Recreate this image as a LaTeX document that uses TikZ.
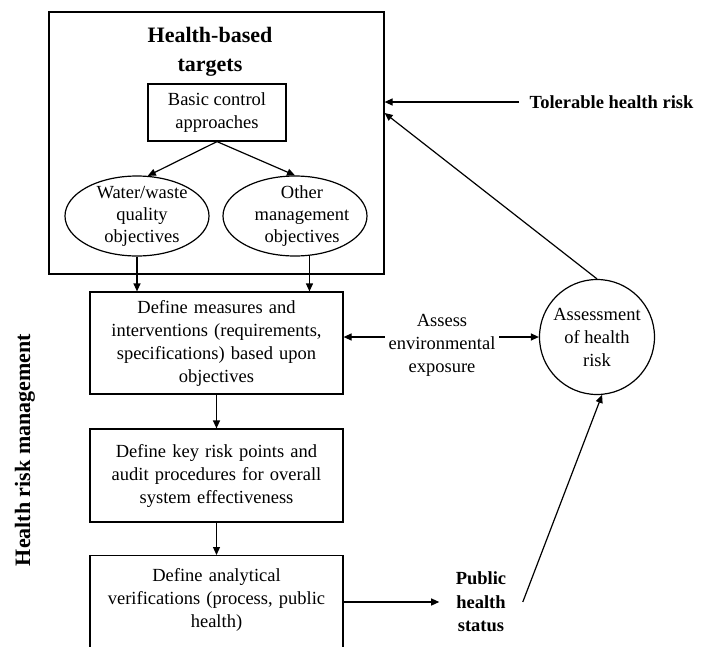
\documentclass[tikz,border=0pt]{standalone}
\usepackage{fontspec}
\setmainfont{Liberation Serif}
\usetikzlibrary{arrows.meta,shapes.geometric}
\tikzset{
  txt/.style={font=\fontsize{18.5}{23}\selectfont, align=center},
  hd/.style={font=\fontsize{18.5}{23.5}\selectfont\bfseries, align=center},
  stage/.style={txt, draw, text width=240pt, minimum width=253pt, inner xsep=6.5pt},
  goal/.style={draw, ellipse, inner sep=0pt, minimum width=144pt, minimum height=80pt},
  flow/.style={-{Triangle[length=8pt,width=7pt]}}
}
\begin{document}
\begin{tikzpicture}[x=1pt, y=-1pt, line width=1.2pt]
  \useasboundingbox (0,0) rectangle (702,646);
  \node[draw, minimum width=335pt, minimum height=262pt] (targets) at (216.5,143) {};
  \node[font=\fontsize{22}{29}\selectfont\bfseries, align=center] (hbt) at (210,52) {Health-based\\targets};
  \node[txt, draw, minimum width=138pt, minimum height=57pt, inner sep=0pt] (basic) at (217,112.5) {Basic control\\approaches};
  \node[goal, label={[txt, font=\fontsize{18.5}{22}\selectfont, xshift=5pt]center:Water/waste\\quality\\objectives}] (wq) at (137,216) {};
  \node[goal, label={[txt, font=\fontsize{18.5}{22}\selectfont, xshift=7pt]center:Other\\management\\objectives}] (om) at (295,216) {};
  \node[stage, minimum height=102pt] (measures) at (216.5,343) {Define measures and\\interventions (requirements,\\specifications) based upon\\objectives};
  \node[stage, minimum height=93pt] (keypts) at (216.5,475.5) {Define key risk points and\\audit procedures for overall\\system effectiveness};
  \node[stage, anchor=north, inner ysep=13pt, text depth=80pt] (verif) at (216.5,555) {Define analytical\\verifications (process, public\\health)};
  \node[font=\fontsize{22}{26}\selectfont\bfseries, rotate=90] (hrm) at (25,450) {Health risk management};
  \node[hd, anchor=west, inner xsep=10pt] (tolerable) at (519,102) {Tolerable health risk};
  \node[txt] (exposure) at (442,345) {Assess\\environmental\\exposure};
  \node[txt, draw, circle, minimum size=115pt, inner sep=0pt] (risk) at (597,337) {Assessment\\of health\\risk};
  \node[hd, inner xsep=16pt] (public) at (481,602) {Public\\health\\status};
  \coordinate (fbin) at (targets.east |- 0,113);
  \coordinate (expin) at ([yshift=8pt]exposure.west);
  \coordinate (expout) at ([yshift=8pt]exposure.east);
  \begin{scope}[flow]
    \draw (basic.south) to (wq.75);
    \draw (basic.south) to (om.north);
    \draw (wq.south) to (wq.south |- measures.north);
    \draw (om.-70) to (om.-70 |- measures.north);
    \draw (measures.south) to (keypts.north);
    \draw (keypts.south) to (verif.north);
    \draw (verif.east |- public) to (public.west);
    \draw (public.east) to (risk.-85);
    \draw (risk.north) to (fbin);
    \draw (tolerable.west) to (targets.east |- tolerable.west);
    \draw (expin) to (measures.east |- expin);
    \draw (expout) to (risk.west |- expout);
  \end{scope}
\end{tikzpicture}
\end{document}
